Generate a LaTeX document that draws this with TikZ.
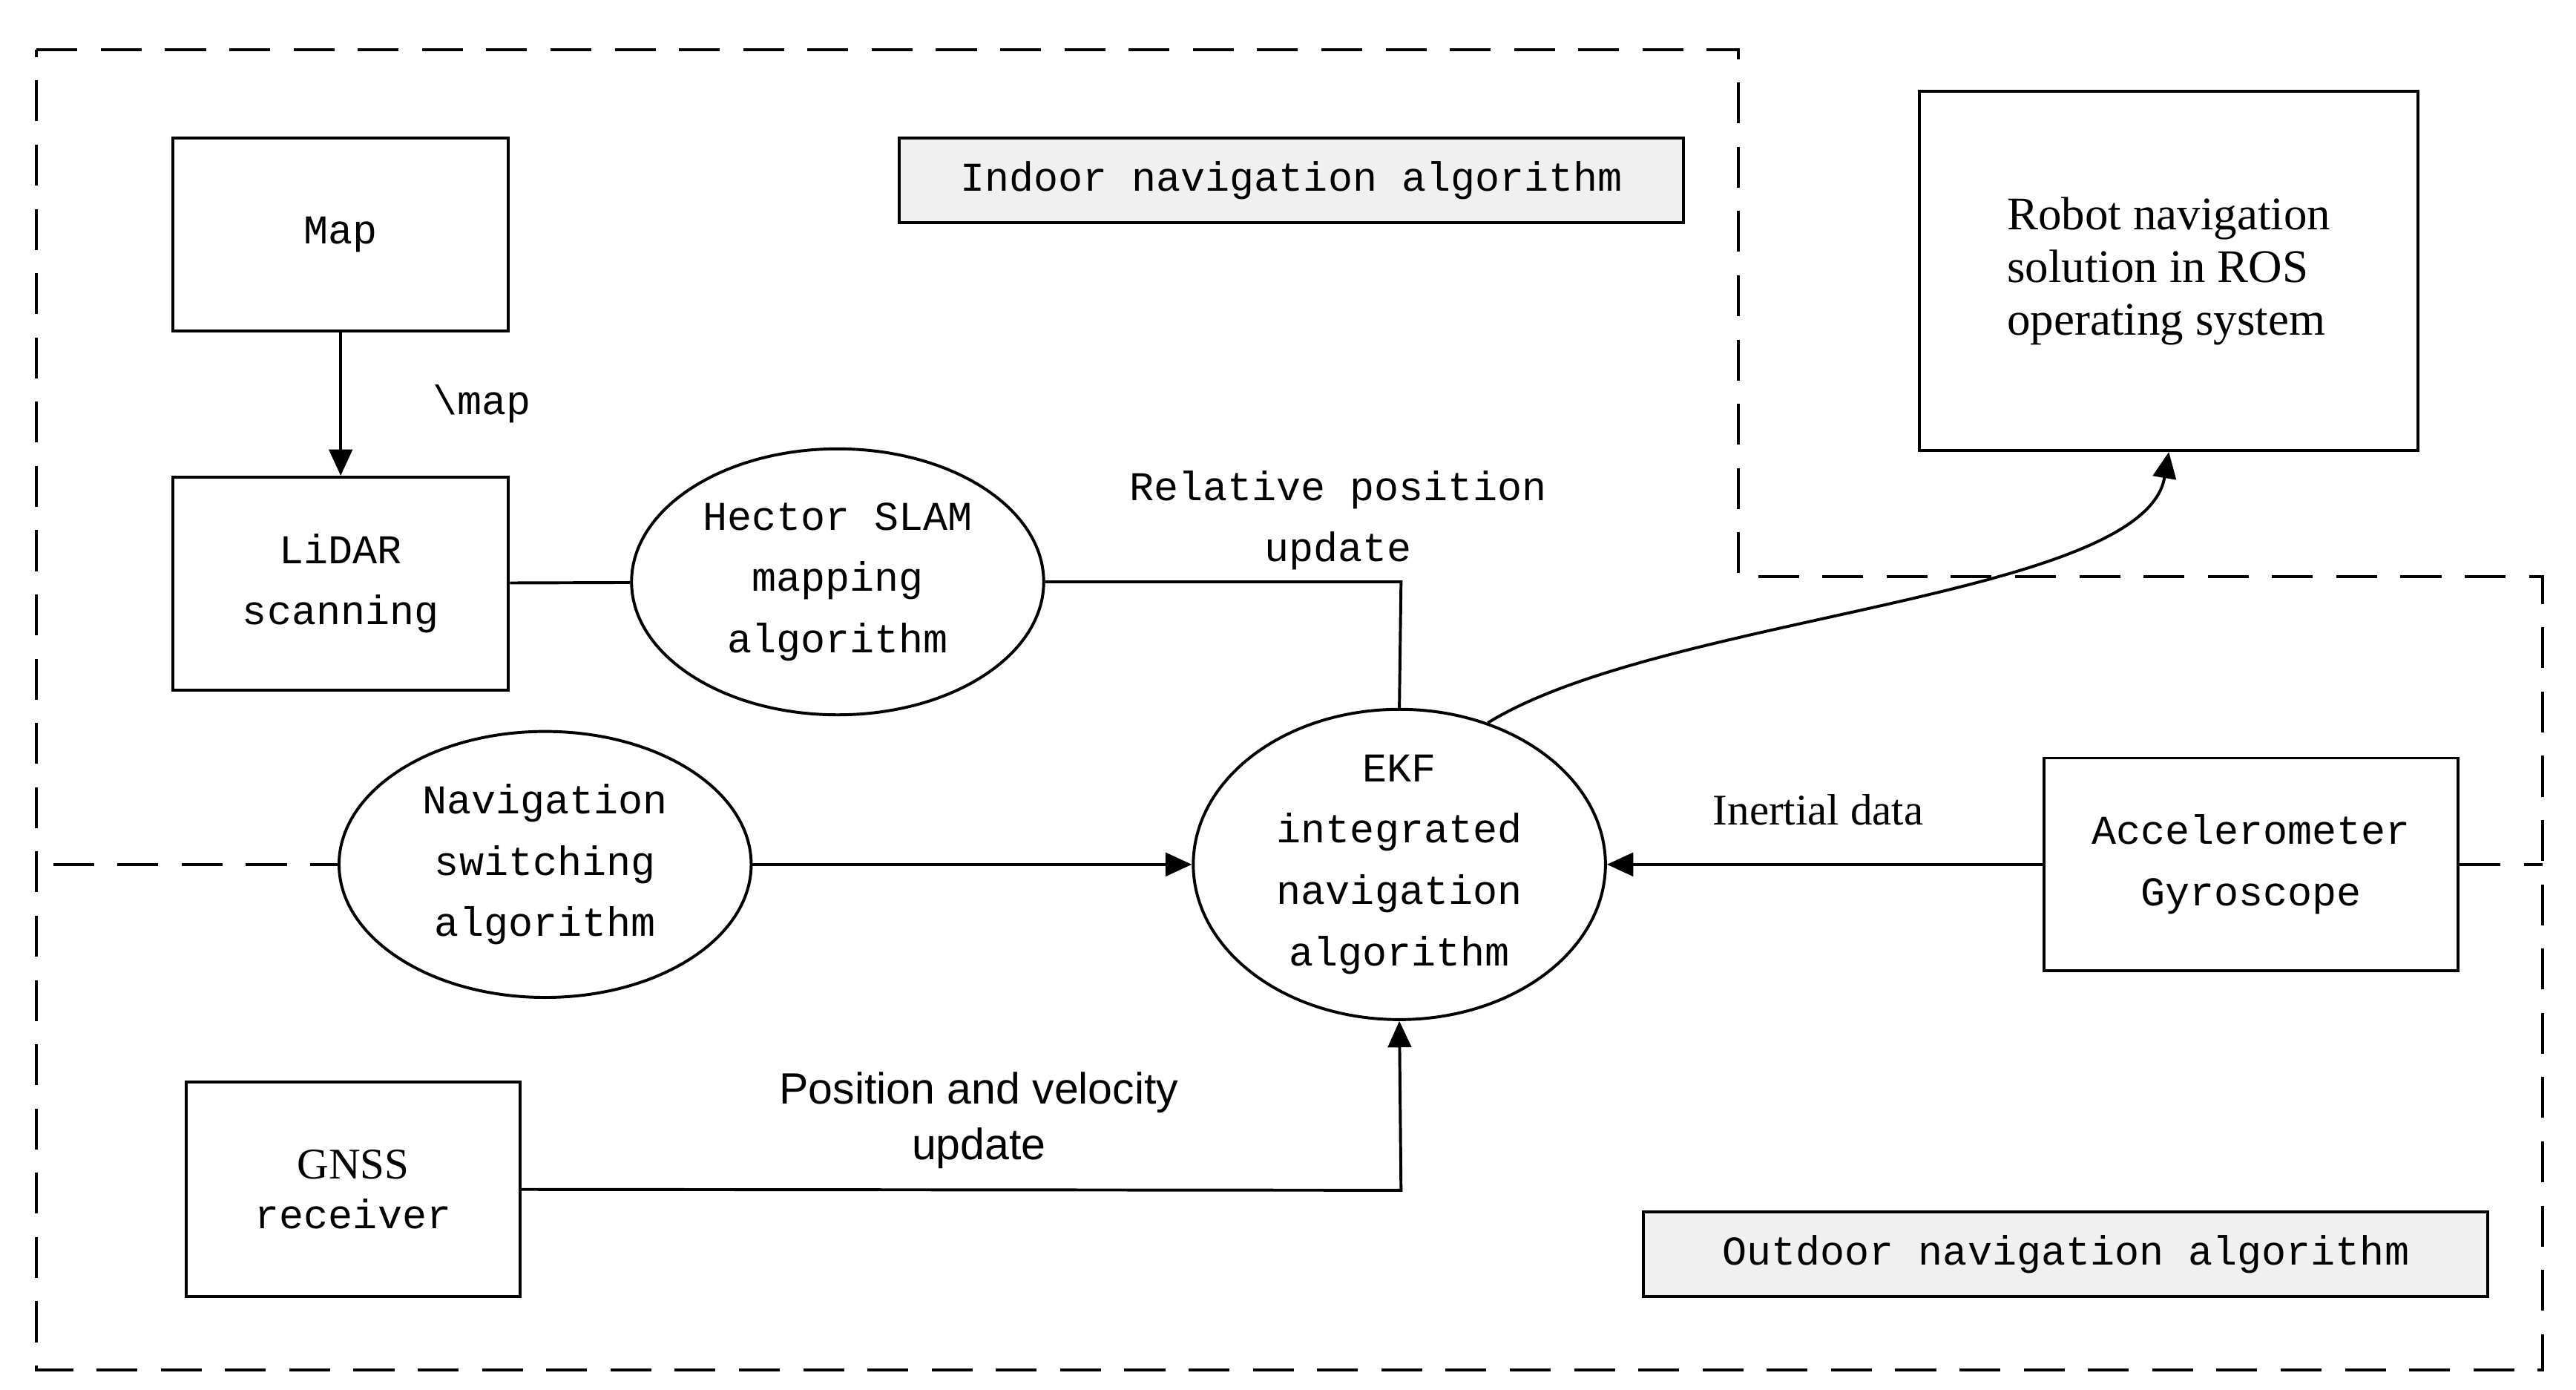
\documentclass[tikz,border=0pt]{standalone}
\usepackage{fontspec}
\setmainfont{Liberation Serif}
\newfontfamily\mono{Liberation Mono}
\newfontfamily\sans{Liberation Sans}
\usetikzlibrary{arrows.meta,shapes.geometric}
\begin{document}
\begin{tikzpicture}[x=0.02cm,y=-0.02cm,line width=1pt,
  box/.style={draw,minimum width=0,inner sep=0},
  ell/.style={draw,ellipse,minimum width=248*0.02cm,minimum height=160*0.02cm,inner sep=0,align=center,font=\mono\fontsize{14}{21}\selectfont},
  lbl/.style={align=center,font=\mono\fontsize{14}{21}\selectfont},
  arr/.style={-{Triangle[length=9pt,width=8pt]}},
  dsh/.style={dash pattern=on 14pt off 8pt}]
\useasboundingbox (0,0) rectangle (1550,836);
\draw[dsh] (22,30) -- (1046,30) -- (1046,347) -- (1530,347) -- (1530,824) -- (22,824) -- cycle;
\draw[dsh] (32,520) -- (205,520);
\draw[dsh] (1480,520) -- (1530,520);
\node[draw,fill=gray!12,minimum width=472*0.02cm,minimum height=51*0.02cm,lbl] (in) at (777,108.5) {Indoor navigation algorithm};
\node[draw,fill=gray!12,minimum width=508*0.02cm,minimum height=51*0.02cm,lbl] (out) at (1243,754.5) {Outdoor navigation algorithm};
\node[draw,minimum width=202*0.02cm,minimum height=116*0.02cm,lbl] (map) at (205,141) {Map};
\node[draw,minimum width=202*0.02cm,minimum height=128*0.02cm,lbl] (lidar) at (205,351) {LiDAR\\scanning};
\node[draw,minimum width=201*0.02cm,minimum height=129*0.02cm,align=center,font=\fontsize{15}{17}\selectfont] (gnss) at (212.5,715.5) {GNSS\\{\mono\fontsize{14}{17}\selectfont receiver}};
\node[draw,minimum width=249*0.02cm,minimum height=128*0.02cm,lbl] (acc) at (1354.5,520) {Accelerometer\\Gyroscope};
\node[draw,minimum width=300*0.02cm,minimum height=216*0.02cm,align=left,font=\fontsize{16}{18}\selectfont] (robot) at (1305,163) {Robot navigation\\solution in ROS\\operating system};
\node[ell] (hector) at (504,350) {Hector SLAM\\mapping\\algorithm};
\node[ell] (nav) at (328,520) {Navigation\\switching\\algorithm};
\node[ell] (ekf) at (842,520) {EKF\\integrated\\navigation\\algorithm};
\coordinate (c1) at (843,350);
\coordinate (c2) at (843,716);
\draw[arr] (map) -- (lidar);
\node[lbl] (lm) at (290,243) {\textbackslash map};
\draw (lidar) -- (hector);
\draw (hector.east) -- (c1) -- (ekf.north);
\node[lbl] (lr) at (805,313) {Relative position\\update};
\draw[arr] (nav) -- (ekf);
\draw[arr] (acc) -- (ekf);
\node[font=\fontsize{15}{17}\selectfont] (li) at (1094,487) {Inertial data};
\draw[arr] (gnss.east) -- (c2) -- (ekf.south);
\node[align=center,font=\sans\fontsize{15}{19}\selectfont] (lp) at (589,674) {Position and velocity\\update};
\draw[arr] (ekf.58) .. controls (1000,370) and (1290,360) .. (robot.south);
\end{tikzpicture}
\end{document}
